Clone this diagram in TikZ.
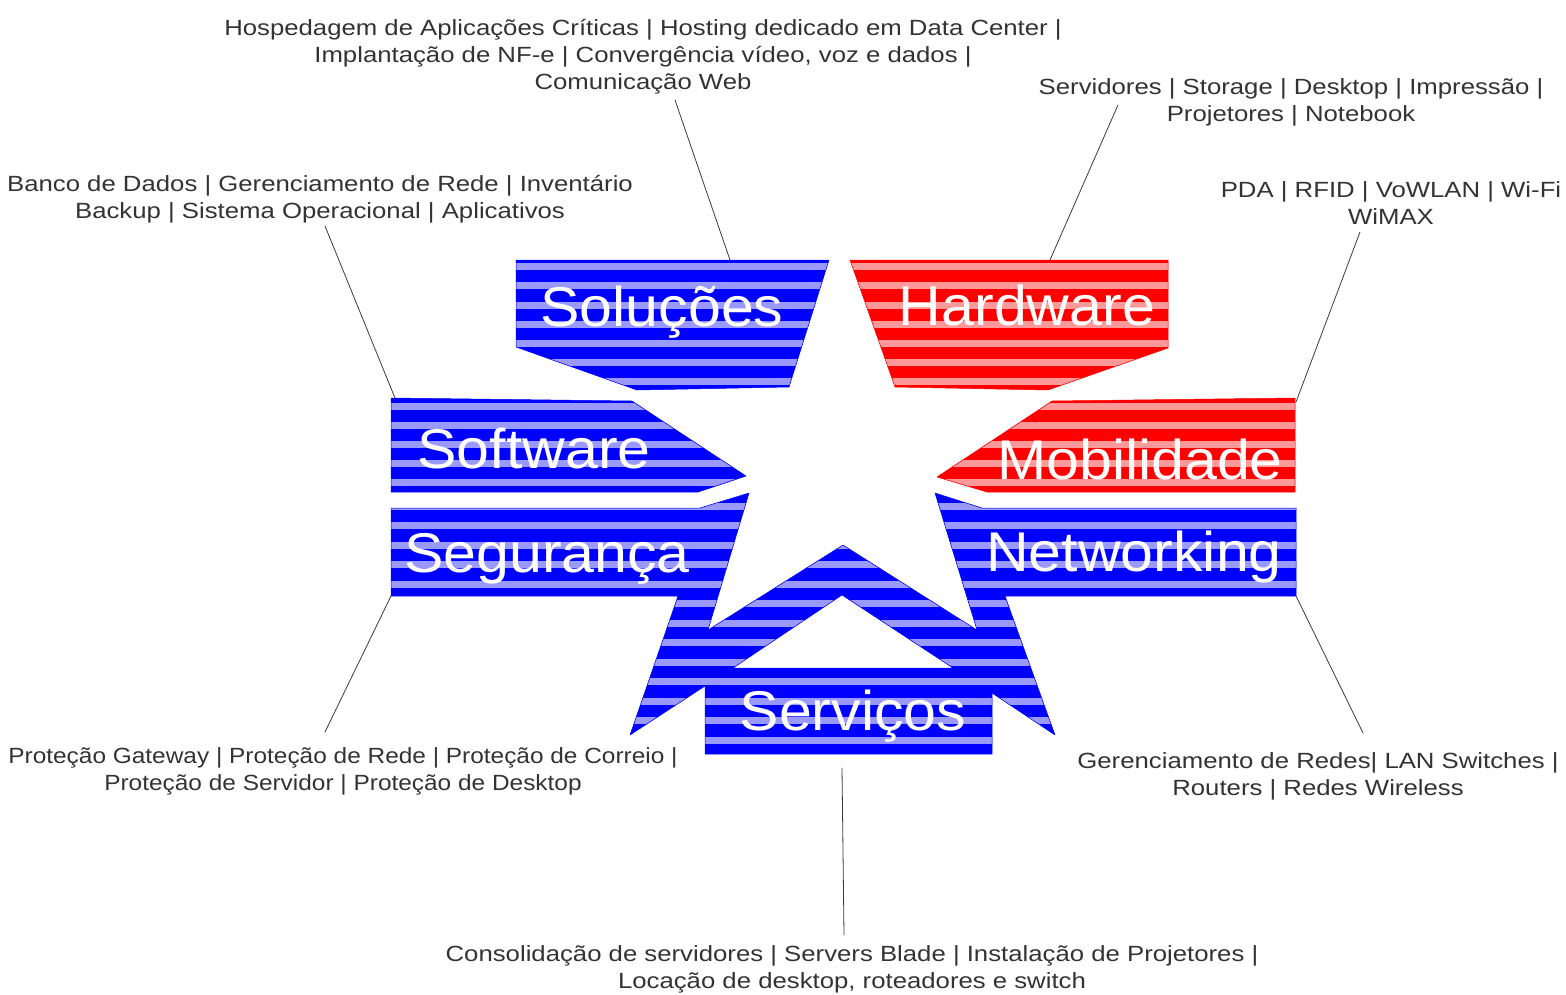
\documentclass[tikz,border=0pt]{standalone}
\usepackage{fontspec}
\setmainfont{Liberation Sans}
\newfontfamily\descfont[FakeStretch=1.17]{Liberation Sans}
\newfontfamily\descfontn[FakeStretch=1.11]{Liberation Sans}
\newfontfamily\bigfont[FakeStretch=1.055]{Liberation Sans}
\definecolor{txtgray}{HTML}{333333}
\definecolor{leadgray}{HTML}{3A3A3A}
\colorlet{bdark}{blue}
\colorlet{blight}{blue!40}
\colorlet{rdark}{red}
\colorlet{rlight}{red!40}
% striped polygon: path, dark, light, first light stripe, period
\newcommand\stripeshape[5]{%
 \begin{scope}
 \clip #1;
 \fill[#2] (370,#4-30) rectangle (1320,#4+290);
 \foreach\k in{0,...,15}{\fill[#3] (370,#4+\k*#5-3.5) rectangle (1320,#4+\k*#5+3.5);}
 \end{scope}
 \draw[#2,line width=.5pt] #1;}
\begin{document}
\begin{tikzpicture}[x=1pt, y=-1pt, line join=round, line cap=round,
 desc/.style={align=center, text=txtgray, anchor=base, inner sep=0pt, font=\descfont\fontsize{22}{27}\selectfont},
 big/.style={text=white, anchor=base, inner sep=0pt, font=\bigfont\fontsize{56}{56}\selectfont},
 lead/.style={draw=leadgray, line width=.8pt}]
 \useasboundingbox (0,0) rectangle (1566,994);
 % shapes
 \stripeshape{(516,260)--(829,260)--(789,387)--(637,390)--(516,347)--cycle}{bdark}{blight}{266.7}{19.2}
 \stripeshape{(391,398)--(632,401)--(746,476)--(698,492)--(391,492)--cycle}{bdark}{blight}{406}{19.2}
 \stripeshape{(850,260)--(1168,260)--(1168,348)--(1048,390)--(895,387)--cycle}{rdark}{rlight}{266.7}{19.2}
 \stripeshape{(1052,401)--(1295,398)--(1295,492)--(987,492)--(937,477)--cycle}{rdark}{rlight}{406}{19.2}
 \stripeshape{(391,508)--(700,508)--(749,493)--(708,630)--(843,545)--(977,630)--(935,493)--(982,508)--(1296,508)--(1296,596)--(1005,596)--(1055,735)--(992,693)--(992,754)--(705,754)--(705,686)--(630,735)--(678,596)--(391,596)--cycle (842,595)--(733,668)--(953,668)--cycle}{bdark}{blight}{506}{19.5}
 % labels
 \node[big] (sol) at (662,326) {Soluções};
 \node[big] (hw) at (1027,325) {Hardware};
 \node[big] (sw) at (534,468) {Software};
 \node[big] (mob) at (1140,479) {Mobilidade};
 \node[big] (seg) at (547,572) {Segurança};
 \node[big] (net) at (1134,571) {Networking};
 \node[big] (srv) at (853,730) {Serviços};
 % descriptions (base = last line)
 \node[desc] (dsol) at (643,89) {Hospedagem de Aplicações Críticas | Hosting dedicado em Data Center |\\Implantação de NF-e | Convergência vídeo, voz e dados |\\Comunicação Web};
 \node[desc] (dsw) at (320,218) {Banco de Dados | Gerenciamento de Rede | Inventário\\Backup | Sistema Operacional | Aplicativos};
 \node[desc] (dhw) at (1291,121) {Servidores | Storage | Desktop | Impressão |\\Projetores | Notebook};
 \node[desc] (dmob) at (1391,224) {PDA | RFID | VoWLAN | Wi-Fi\\WiMAX};
 \node[desc, font=\descfontn\fontsize{22}{27}\selectfont] (dseg) at (343,790) {Proteção Gateway | Proteção de Rede | Proteção de Correio |\\Proteção de Servidor | Proteção de Desktop};
 \node[desc] (dnet) at (1318,795) {Gerenciamento de Redes| LAN Switches |\\Routers | Redes Wireless};
 \node[desc] (dsrv) at (852,988) {Consolidação de servidores | Servers Blade | Instalação de Projetores |\\Locação de desktop, roteadores e switch};
 % leader lines
 \foreach\n/\a/\b in{sol/{675,100}/{730,260}, sw/{325,226}/{395,398}, hw/{1118,105}/{1050,260},
   mob/{1360,232}/{1296,402}, seg/{325,732}/{391,596}, net/{1363,733}/{1296,596}, srv/{844,935}/{842,768}}{
   \coordinate (\n-a) at (\a);
   \coordinate (\n-b) at (\b);
   \draw[lead] (\n-a)--(\n-b);}
\end{tikzpicture}
\end{document}
